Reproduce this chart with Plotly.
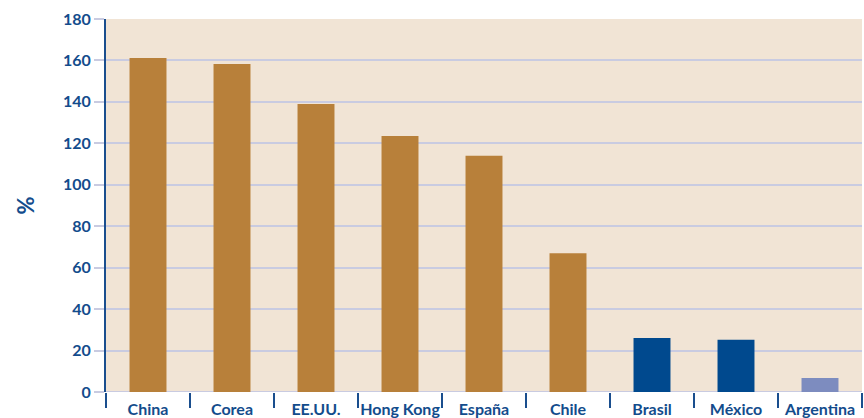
import plotly.graph_objects as go

categories = ["China", "Corea", "EE.UU.", "Hong Kong", "España", "Chile", "Brasil", "México", "Argentina"]
values = [161.2, 158.3, 139.0, 123.5, 114.0, 67.0, 26.0, 25.2, 6.8]
colors = ["#B8803A"] * 6 + ["#00498E", "#00498E", "#7D8CBF"]
y_ticks = [0, 20, 40, 60, 80, 100, 120, 140, 160, 180]

TEXT = "#134C8C"
GRID = "#C9CBE1"

fig = go.Figure(go.Bar(x=categories, y=values, marker=dict(color=colors, line=dict(width=0)), width=0.44))

fig.update_layout(
    width=864, height=418,
    margin=dict(l=106, r=2, t=19, b=26, autoexpand=False),
    paper_bgcolor="white",
    plot_bgcolor="#F1E4D5",
    showlegend=False,
    bargap=0.56,
)
fig.update_yaxes(
    range=[0, 180], tickvals=y_ticks, showgrid=True, gridcolor=GRID, gridwidth=2,
    ticks="outside", ticklen=10, tickcolor=GRID, tickwidth=2,
    showline=True, linecolor="#1A4E8E", linewidth=2, automargin=False,
    tickfont=dict(family="Lato", size=16, color=TEXT, weight="bold"),
    zeroline=False,
    title=dict(text="%", font=dict(family="Lato", size=22, color=TEXT, weight="bold"), standoff=22),
)
fig.update_xaxes(
    tickson="boundaries", ticks="outside", ticklen=15, tickcolor="#1A4E8E", tickwidth=2,
    showline=False, ticklabelstandoff=6, automargin=False, tickangle=0,
    tickfont=dict(family="Lato", size=16, color=TEXT, weight="bold"),
)
fig.add_hline(y=0, line=dict(color=GRID, width=2), layer="below")

fig.write_html("out.html")
